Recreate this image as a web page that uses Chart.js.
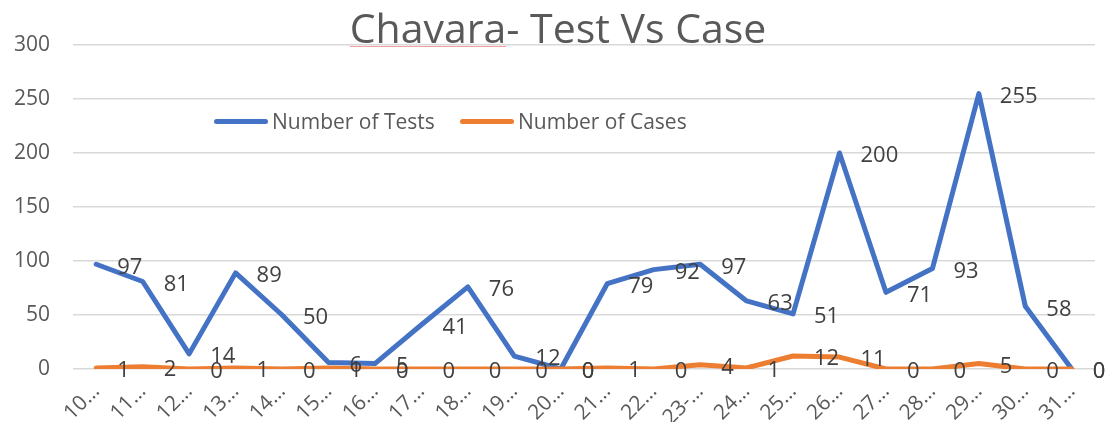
<!DOCTYPE html>
<html>
<head>
<meta charset="utf-8">
<script src="https://cdn.jsdelivr.net/npm/chart.js@4.4.1/dist/chart.umd.min.js"></script>
<style>
    html, body { margin: 0; padding: 0; background: #fff; }
    #wrap { position: relative; width: 1108px; height: 422px; font-family: "Open Sans", sans-serif; }
    #title {
        position: absolute; left: 0; width: 1108px; top: 2px; text-align: center;
        font-size: 41px; color: #595959; line-height: 50px; pointer-events: none; z-index: 2;
        padding-left: 8px; box-sizing: border-box;
    }
    #title .spell { text-decoration: underline #f4a0a0; text-decoration-thickness: 1px; text-underline-offset: 3px; }
    .legend { position: absolute; top: 107px; font-size: 21px; color: #595959; display: flex; align-items: center; white-space: nowrap; z-index: 2; }
    .legend .swatch { display: inline-block; width: 54px; height: 5px; border-radius: 3px; margin-right: 4px; }
</style>
</head>
<body>
<div id="wrap">
    <div id="title"><span class="spell">Chavara</span>- Test Vs Case</div>
    <div class="legend" style="left:214px;"><span class="swatch" style="background:#4472C4"></span>Number of Tests</div>
    <div class="legend" style="left:460px;"><span class="swatch" style="background:#ED7D31"></span>Number of Cases</div>
    <canvas id="chart"></canvas>
</div>
<script>
const days = ['10…', '11…', '12…', '13…', '14…', '15…', '16…', '17…', '18…', '19…', '20…',
    '21…', '22…', '23-…', '24…', '25…', '26…', '27…', '28…', '29…', '30…', '31…'];
const tests = [97, 81, 14, 89, 50, 6, 5, 41, 76, 12, 0, 79, 92, 97, 63, 51, 200, 71, 93, 255, 58, 0];
const cases = [1, 2, 0, 1, 0, 1, 0, 0, 0, 0, 0, 1, 0, 4, 1, 12, 11, 0, 0, 5, 0, 0];
const yTicks = [0, 50, 100, 150, 200, 250, 300];

const COLORS = {
    blue: '#4472C4',
    orange: '#ED7D31',
    grid: '#d9d9d9',
    text: '#595959',
    label: '#404040'
};

// values written to the right of every point, like the Excel data labels
const pointLabels = {
    id: 'pointLabels',
    afterDatasetsDraw(chart) {
        const ctx = chart.ctx;
        ctx.save();
        ctx.font = '22px "Open Sans"';
        ctx.fillStyle = COLORS.label;
        ctx.textAlign = 'left';
        ctx.textBaseline = 'middle';
        chart.data.datasets.forEach((ds, i) => {
            chart.getDatasetMeta(i).data.forEach((pt, j) => {
                ctx.fillText(String(ds.data[j]), pt.x + 21, pt.y + 3);
            });
        });
        ctx.restore();
    }
};

const ctx = document.getElementById('chart').getContext('2d');
new Chart(ctx, {
    type: 'line',
    data: {
        labels: days,
        datasets: [{
            label: 'Number of Tests',
            data: tests,
            borderColor: COLORS.blue,
            borderWidth: 5,
            pointRadius: 0,
            tension: 0,
            borderJoinStyle: 'round',
            borderCapStyle: 'round',
            order: 1
        }, {
            label: 'Number of Cases',
            data: cases,
            borderColor: COLORS.orange,
            borderWidth: 5,
            pointRadius: 0,
            tension: 0,
            borderJoinStyle: 'round',
            borderCapStyle: 'round',
            order: 0
        }]
    },
    options: {
        responsive: true,
        maintainAspectRatio: false,
        animation: false,
        layout: { padding: { top: 45, right: 13, left: 0, bottom: 0 } },
        plugins: {
            legend: { display: false },
            tooltip: { enabled: false },
            title: { display: false }
        },
        scales: {
            y: {
                min: 0,
                max: 300,
                afterBuildTicks: (scale) => { scale.ticks = yTicks.map(v => ({ value: v })); },
                afterFit: (scale) => { scale.width = 73; },
                border: { display: false },
                grid: { color: COLORS.grid, lineWidth: 1.5, drawTicks: false },
                ticks: { color: COLORS.text, font: { size: 21, family: 'Open Sans' }, padding: 23 }
            },
            x: {
                offset: true,
                afterFit: (scale) => { scale.height = 53; },
                border: { display: false },
                grid: { display: false },
                ticks: {
                    color: COLORS.text,
                    font: { size: 21, family: 'Open Sans' },
                    minRotation: 45,
                    maxRotation: 45,
                    autoSkip: false,
                    padding: 2
                }
            }
        }
    },
    plugins: [pointLabels]
});
</script>
</body>
</html>
